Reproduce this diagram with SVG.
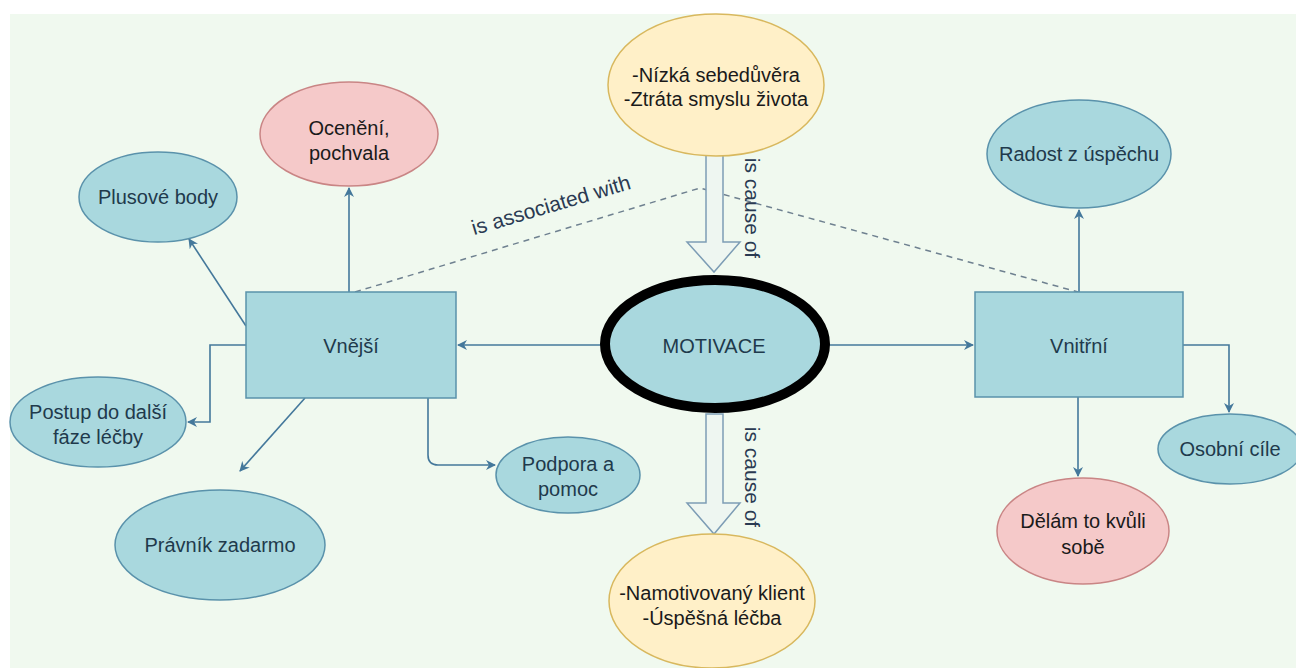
<svg xmlns="http://www.w3.org/2000/svg" width="1296" height="668" viewBox="0 0 1296 668">
<defs>
<marker id="ah" viewBox="0 0 10 10" refX="9" refY="5" markerWidth="10" markerHeight="10" markerUnits="userSpaceOnUse" orient="auto">
<path d="M0,0 L10,5 L0,10 L3,5 Z" fill="#44789b"/>
</marker>
<style>
.teal{fill:#a9d8de;stroke:#5a92ab;stroke-width:1.5}
.red{fill:#f5c9c9;stroke:#c98585;stroke-width:1.5}
.yel{fill:#fff0c8;stroke:#d8b85e;stroke-width:1.5}
.t{font-family:"Liberation Sans",Arial,sans-serif;font-size:20px;text-anchor:middle;fill:#1f3a4c}
.tk{font-family:"Liberation Sans",Arial,sans-serif;font-size:20px;text-anchor:middle;fill:#1a1a1a}
.c{fill:none;stroke:#44789b;stroke-width:1.6}
.blk{fill:#eef6f1;stroke:#7d9db5;stroke-width:1.5}
.lbl{font-family:"Liberation Sans",Arial,sans-serif;font-size:21px;fill:#2a3a52}
</style>
</defs>
<rect x="0" y="0" width="1296" height="668" fill="#ffffff"/>
<rect x="10" y="14" width="1286" height="654" fill="#f0f9ef"/>

<g id="connectors">
<path class="c" d="M603,345 L458,345" marker-end="url(#ah)"/>
<path class="c" d="M826,345 L973,345" marker-end="url(#ah)"/>
<path class="c" d="M349,292 L349,188" marker-end="url(#ah)"/>
<path class="c" d="M246,326 L189,239" marker-end="url(#ah)"/>
<path class="c" d="M246,345 L210,345 L210,422 L188,422" marker-end="url(#ah)"/>
<path class="c" d="M305,398 L240,471" marker-end="url(#ah)"/>
<path class="c" d="M428,398 L428,455 Q428,465 438,465 L495,465" marker-end="url(#ah)"/>
<path class="c" d="M1079,292 L1079,210" marker-end="url(#ah)"/>
<path class="c" d="M1183,345 L1229,345 L1229,412" marker-end="url(#ah)"/>
<path class="c" d="M1078,397 L1078,476" marker-end="url(#ah)"/>
<path d="M355,292 L700,188 L1078,292" fill="none" stroke="#6f8190" stroke-width="1.5" stroke-dasharray="6,5"/>
<path class="blk" d="M706,155 L723,155 L723,242 L740,242 L714,272 L687,242 L706,242 Z"/>
<path class="blk" d="M706,414 L723,414 L723,503 L740,503 L714,534 L687,503 L706,503 Z"/>
<text class="lbl" transform="translate(553,212) rotate(-16.5)" text-anchor="middle">is associated with</text>
<text class="lbl" transform="translate(745,208) rotate(90)" text-anchor="middle">is cause of</text>
<text class="lbl" transform="translate(745,477) rotate(90)" text-anchor="middle">is cause of</text>
</g>

<g id="top">
<ellipse class="yel" cx="716" cy="85" rx="108" ry="71"/>
<text class="tk" x="716" y="82">-Nízká sebedůvěra</text>
<text class="tk" x="716" y="106">-Ztráta smyslu života</text>
</g>
<g id="bottom">
<ellipse class="yel" cx="712" cy="601" rx="103" ry="67"/>
<text class="tk" x="712" y="600">-Namotivovaný klient</text>
<text class="tk" x="712" y="625">-Úspěšná léčba</text>
</g>
<g id="motivace">
<ellipse cx="715" cy="344" rx="110" ry="64" fill="#a9d8de" stroke="#000" stroke-width="10"/>
<text class="t" x="714" y="353">MOTIVACE</text>
</g>
<g id="vnejsi">
<rect class="teal" x="246" y="292" width="210" height="106"/>
<text class="t" x="351" y="353">Vnější</text>
</g>
<g id="vnitrni">
<rect class="teal" x="975" y="292" width="208" height="105"/>
<text class="t" x="1079" y="353">Vnitřní</text>
</g>
<g id="oceneni">
<ellipse class="red" cx="349" cy="134" rx="89" ry="52"/>
<text class="tk" x="349" y="135">Ocenění,</text>
<text class="tk" x="349" y="160">pochvala</text>
</g>
<g id="plusove">
<ellipse class="teal" cx="158" cy="197" rx="79" ry="45"/>
<text class="t" x="158" y="204">Plusové body</text>
</g>
<g id="postup">
<ellipse class="teal" cx="98" cy="422" rx="88" ry="45"/>
<text class="t" x="98" y="419">Postup do další</text>
<text class="t" x="98" y="444">fáze léčby</text>
</g>
<g id="pravnik">
<ellipse class="teal" cx="220" cy="545" rx="105" ry="55"/>
<text class="t" x="220" y="552">Právník zadarmo</text>
</g>
<g id="podpora">
<ellipse class="teal" cx="568" cy="475" rx="72" ry="38"/>
<text class="t" x="568" y="471">Podpora a</text>
<text class="t" x="568" y="496">pomoc</text>
</g>
<g id="radost">
<ellipse class="teal" cx="1079" cy="154" rx="92" ry="54"/>
<text class="t" x="1079" y="161">Radost z úspěchu</text>
</g>
<g id="osobni">
<ellipse class="teal" cx="1230" cy="449" rx="72" ry="35"/>
<text class="t" x="1230" y="456">Osobní cíle</text>
</g>
<g id="delam">
<ellipse class="red" cx="1083" cy="531" rx="86" ry="53"/>
<text class="tk" x="1083" y="528">Dělám to kvůli</text>
<text class="tk" x="1083" y="554">sobě</text>
</g>
</svg>
